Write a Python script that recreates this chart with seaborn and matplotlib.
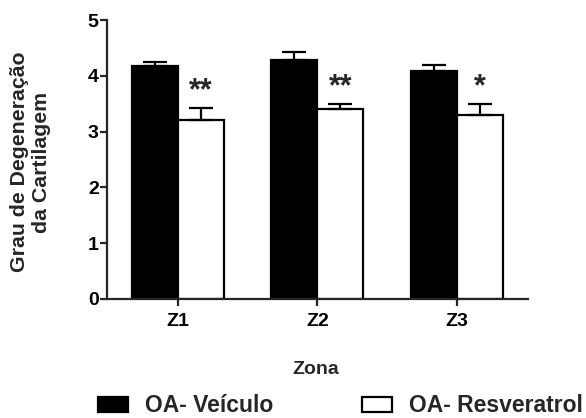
import numpy as np
import pandas as pd
import matplotlib
matplotlib.use("Agg")
import matplotlib.pyplot as plt
import seaborn as sns
from matplotlib.patches import Patch

zones = ["Z1", "Z2", "Z3"]
groups = ["OA- Veículo", "OA- Resveratrol"]
veiculo = [4.18, 4.28, 4.08]
veiculo_err = [0.07, 0.14, 0.11]
resveratrol = [3.20, 3.40, 3.30]
resveratrol_err = [0.23, 0.10, 0.20]
stars = ["**", "**", "*"]

df = pd.DataFrame({
    "Zona": zones * 2,
    "Grupo": [groups[0]] * 3 + [groups[1]] * 3,
    "valor": veiculo + resveratrol,
})

sns.set_style("ticks")
plt.rcParams["font.family"] = ["Liberation Sans", "DejaVu Sans"]
plt.rcParams["font.weight"] = "bold"

fig = plt.figure(figsize=(5.86, 4.18), dpi=100)
ax = fig.add_axes([0.1826, 0.2847, 0.718, 0.6673])

sns.barplot(data=df, x="Zona", y="valor", hue="Grupo", hue_order=groups,
            palette=["black", "white"], width=0.66, edgecolor="black",
            linewidth=1.6, errorbar=None, legend=False, ax=ax)

# upward-only error bars, stars over the treated bars
for patch_list, vals, errs in [(ax.patches[:3], veiculo, veiculo_err),
                               (ax.patches[3:6], resveratrol, resveratrol_err)]:
    for p, v, e in zip(patch_list, vals, errs):
        xc = p.get_x() + p.get_width() / 2
        ax.errorbar(xc, v, yerr=[[0], [e]], fmt="none", ecolor="black",
                    elinewidth=1.6, capsize=8.6, capthick=1.6)
for p, v, e, s in zip(ax.patches[3:6], resveratrol, resveratrol_err, stars):
    xc = p.get_x() + p.get_width() / 2
    ax.text(xc, v + e + 0.03, s, ha="center", va="bottom",
            fontsize=22, fontweight="bold")

ax.set_xlim(-0.51, 2.51)
ax.set_ylim(0, 5)
ax.set_yticks([0, 1, 2, 3, 4, 5])
sns.despine(ax=ax)
for sp in ["left", "bottom"]:
    ax.spines[sp].set_linewidth(1.6)
ax.tick_params(width=1.6, length=5, labelsize=14, labelcolor="black")
ax.tick_params(axis="y", pad=1)
ax.tick_params(axis="x", pad=5)
for lab in ax.get_xticklabels() + ax.get_yticklabels():
    lab.set_fontweight("bold")
ax.set_xlabel("")
ax.set_ylabel("")
fig.text(316 / 586, 1 - 370 / 418, "Zona", ha="center", va="center",
         fontsize=14, fontweight="bold")
fig.text(31 / 586, 1 - 162 / 418, "Grau de Degeneração\nda Cartilagem",
         rotation=90, ha="center", va="center", multialignment="center",
         fontsize=15.3, fontweight="bold", linespacing=1.2)

handles = [Patch(facecolor="black", edgecolor="black", linewidth=1.6),
           Patch(facecolor="white", edgecolor="black", linewidth=1.6)]
fig.legend(handles, groups, loc="center left",
           bbox_to_anchor=(98 / 586, 1 - 406 / 418),
           ncol=2, frameon=False, handlelength=1.3, handleheight=0.6,
           handletextpad=0.74, columnspacing=3.9, borderpad=0,
           borderaxespad=0, prop={"weight": "bold", "size": 16.5})

fig.savefig("out.png", dpi=100)
